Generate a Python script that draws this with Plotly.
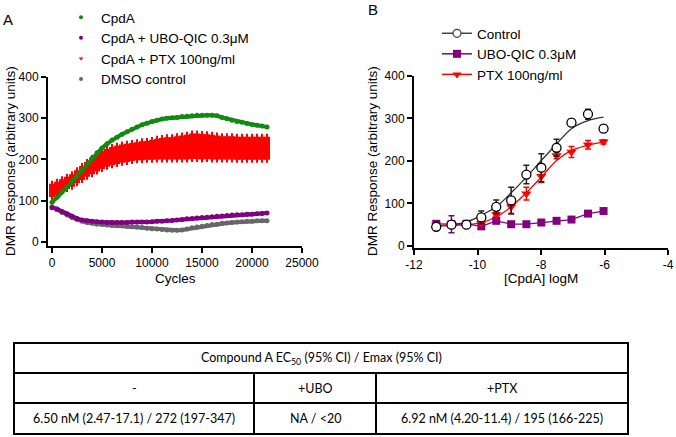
import plotly.graph_objects as go

# ---------------- Panel A data (time course) ----------------
cycles = list(range(0, 22000, 500))
cpda = [96, 108, 121, 133, 145, 160, 174, 189, 203, 216, 228, 238, 247, 254, 261, 267,
        273, 279, 284, 288, 292, 295, 298, 300, 301, 302, 304, 305, 306, 307, 307, 307,
        307, 306, 302, 299, 295, 292, 290, 287, 285, 283, 281, 279]
cpda_ptx = [125, 130, 137, 143, 149, 158, 167, 176, 184, 192, 199, 204, 208, 211, 214, 216,
            218, 220, 221, 222, 223, 225, 226, 227, 227, 228, 229, 230, 232, 232, 231, 231,
            230, 229, 228, 228, 228, 227, 227, 227, 227, 227, 227, 227]
cpda_ptx_err = [16, 16, 15, 15, 15, 16, 17, 18, 20, 21, 22, 22, 22, 22, 22, 22,
                22, 22, 23, 23, 24, 25, 26, 27, 27, 28, 29, 30, 31, 31, 31, 30,
                30, 29, 28, 28, 28, 28, 28, 28, 28, 28, 28, 28]
cpda_ubo = [83, 80, 74, 68, 62, 57, 53, 51, 50, 49, 48, 47, 47, 47, 47, 47,
            48, 48, 48, 48, 49, 50, 50, 51, 52, 53, 54, 56, 57, 58, 59, 60,
            61, 62, 63, 64, 65, 66, 66, 67, 67, 68, 69, 70]
dmso = [85, 78, 71, 65, 59, 54, 50, 47, 45, 43, 42, 41, 40, 39, 39, 38,
        37, 36, 35, 33, 32, 31, 30, 29, 28, 28, 29, 31, 34, 36, 38, 40,
        42, 43, 45, 46, 47, 48, 49, 50, 50, 51, 51, 51]
a_xticks = [0, 5000, 10000, 15000, 20000, 25000]
a_xticklabels = ["0", "5000", "10000", "15000", "20000", "25000"]
y_ticks = [0, 100, 200, 300, 400]

# ---------------- Panel B data (concentration response) ----------------
log_conc = [-11.3, -10.82, -10.35, -9.88, -9.41, -8.94, -8.46, -7.99, -7.51, -7.04, -6.52, -6.03]
ctrl = [45, 50, 50, 67, 92, 107, 168, 184, 231, 290, 310, 276]
ctrl_err = [5, 6, 4, 15, 16, 31, 22, 33, 20, 8, 12, 8]
ptx = [50, 50, 50, 53, 74, 92, 123, 164, 213, 221, 238, 245]
ptx_err = [4, 4, 4, 4, 5, 17, 15, 15, 8, 13, 10, 5]
ubo = [52, 51, 52, 46, 59, 51, 51, 55, 59, 62, 76, 82]
ubo_err = [5, 20, 4, 4, 4, 3, 3, 4, 4, 3, 4, 3]
ctrl_fit = [47, 50, 56, 72, 92, 125, 162, 201, 240, 276, 295, 303]
ptx_fit = [47, 48, 50, 55, 68, 92, 125, 162, 201, 225, 237, 245]
b_xticks = [-12, -10, -8, -6, -4]
b_xticklabels = ["-12", "-10", "-8", "-6", "-4"]

# ---------------- Table ----------------
table_title = "Compound A EC<sub>50</sub> (95% CI) / Emax (95% CI)"
table_cols = ["-", "+UBO", "+PTX"]
table_vals = ["6.50 nM (2.47-17.1) / 272 (197-347)", "NA / <20", "6.92 nM (4.20-11.4) / 195 (166-225)"]

W, H = 676, 437
def fx(p):
    return p / W
def fy(p):
    return 1 - p / H

GREEN = "#108a10"
PURPLE = "#800080"
RED = "#ff0000"
GRAY = "#676767"
FONT = "Liberation Sans, Arial, sans-serif"

fig = go.Figure()

def series(y, color, symbol="circle", err=None):
    kw = {}
    if err is not None:
        kw["error_y"] = dict(type="data", array=err, visible=True, color=color,
                             thickness=6, width=1)
    return go.Scatter(x=cycles, y=y, mode="lines+markers",
                      line=dict(color=color, width=4),
                      marker=dict(color=color, size=5, symbol=symbol),
                      showlegend=False, xaxis="x", yaxis="y", **kw)

fig.add_trace(series(dmso, GRAY))
fig.add_trace(series(cpda_ubo, PURPLE))
fig.add_trace(series(cpda_ptx, RED, "triangle-down", cpda_ptx_err))
fig.add_trace(series(cpda, GREEN))

for name, color, sym in [("CpdA", GREEN, "circle"),
                         ("CpdA + UBO-QIC 0.3μM", PURPLE, "circle"),
                         ("CpdA + PTX 100ng/ml", RED, "triangle-down"),
                         ("DMSO control", GRAY, "circle")]:
    fig.add_trace(go.Scatter(x=[None], y=[None], mode="markers", name=name,
                             marker=dict(color=color, size=4, symbol=sym),
                             xaxis="x", yaxis="y", legend="legend"))

# Panel B traces
fig.add_trace(go.Scatter(x=log_conc, y=ctrl_fit, mode="lines", line=dict(color="#333333", width=1.3, shape="spline"),
                         showlegend=False, xaxis="x2", yaxis="y2"))
fig.add_trace(go.Scatter(x=log_conc, y=ptx_fit, mode="lines", line=dict(color=RED, width=1.3, shape="spline"),
                         showlegend=False, xaxis="x2", yaxis="y2"))
fig.add_trace(go.Scatter(x=log_conc, y=ubo, mode="lines+markers", line=dict(color=PURPLE, width=1.3),
                         marker=dict(color=PURPLE, size=8, symbol="square"),
                         error_y=dict(type="data", array=ubo_err, color=PURPLE, thickness=1.5, width=3),
                         showlegend=False, xaxis="x2", yaxis="y2"))
fig.add_trace(go.Scatter(x=log_conc, y=ptx, mode="markers",
                         marker=dict(color=RED, size=9, symbol="triangle-down"),
                         error_y=dict(type="data", array=ptx_err, color=RED, thickness=1.5, width=3),
                         showlegend=False, xaxis="x2", yaxis="y2"))
fig.add_trace(go.Scatter(x=log_conc, y=ctrl, mode="markers",
                         marker=dict(color="white", size=9, symbol="circle", line=dict(color="black", width=1.3)),
                         error_y=dict(type="data", array=ctrl_err, color="#222222", thickness=1.5, width=3),
                         showlegend=False, xaxis="x2", yaxis="y2"))

for name, lcol, mk in [("Control", "#444444", dict(color="white", size=8, symbol="circle", line=dict(color="#444444", width=1.2))),
                       ("UBO-QIC 0.3μM", PURPLE, dict(color=PURPLE, size=8, symbol="square")),
                       ("PTX 100ng/ml", RED, dict(color=RED, size=8, symbol="triangle-down"))]:
    fig.add_trace(go.Scatter(x=[None], y=[None], mode="lines+markers", name=name,
                             line=dict(color=lcol, width=1.5), marker=mk,
                             xaxis="x2", yaxis="y2", legend="legend2"))

axis_common = dict(showline=True, linecolor="black", linewidth=2, ticks="outside", ticklen=5,
                   tickwidth=2, tickcolor="black", showgrid=False, zeroline=False, automargin=False,
                   tickfont=dict(family=FONT, size=12, color="black"))

fig.update_layout(
    width=W, height=H, margin=dict(l=0, r=0, t=0, b=0, autoexpand=False),
    paper_bgcolor="white", plot_bgcolor="white",
    font=dict(family=FONT, color="black"),
    xaxis=dict(domain=[fx(48), fx(302)], range=[-400, 25000], tickvals=a_xticks, ticktext=a_xticklabels,
               anchor="y", **axis_common),
    yaxis=dict(domain=[fy(246), fy(77)], range=[-10, 400], tickvals=y_ticks,
               anchor="x", **axis_common),
    xaxis2=dict(domain=[fx(414), fx(668)], range=[-12, -4], tickvals=b_xticks, ticktext=b_xticklabels,
                anchor="y2", **axis_common),
    yaxis2=dict(domain=[fy(248), fy(76)], range=[-5, 400], tickvals=y_ticks,
                anchor="x2", **axis_common),
    legend=dict(x=fx(61), y=fy(2), xanchor="left", yanchor="top", bgcolor="rgba(0,0,0,0)",
                font=dict(family=FONT, size=13.5, color="black"), itemwidth=30, tracegroupgap=0),
    legend2=dict(x=fx(437), y=fy(18), xanchor="left", yanchor="top", bgcolor="rgba(0,0,0,0)",
                 font=dict(family=FONT, size=13.5, color="black"), itemwidth=30, tracegroupgap=0),
)

def label(text, x, y, size=13.5, family=FONT, angle=0):
    return dict(text=text, x=fx(x), y=fy(y), xref="paper", yref="paper", showarrow=False,
                xanchor="center", yanchor="middle", textangle=angle,
                font=dict(family=family, size=size, color="black"))

ann = [
    label("A", 8, 20, 15),
    label("B", 373, 9, 15),
    label("DMR Response (arbitrary units)", 10, 161, angle=-90),
    label("DMR Response (arbitrary units)", 372, 161, angle=-90),
    label("Cycles", 175, 278),
    label("[CpdA] logM", 541, 278),
]

# table
TL, TR, TT, TB = 14, 628, 343, 434
r1, r2 = 373, 403
c1, c2 = 254, 376
TFAM = "Lato, Open Sans, sans-serif"
line_kw = dict(xref="paper", yref="paper", line=dict(color="black", width=2))
shapes = [
    dict(type="rect", x0=fx(TL), x1=fx(TR), y0=fy(TT), y1=fy(TB), **line_kw),
    dict(type="line", x0=fx(TL), x1=fx(TR), y0=fy(r1), y1=fy(r1), **line_kw),
    dict(type="line", x0=fx(TL), x1=fx(TR), y0=fy(r2), y1=fy(r2), **line_kw),
    dict(type="line", x0=fx(c1), x1=fx(c1), y0=fy(r1), y1=fy(TB), **line_kw),
    dict(type="line", x0=fx(c2), x1=fx(c2), y0=fy(r1), y1=fy(TB), **line_kw),
]
ann.append(label(table_title, (TL + TR) / 2, (TT + r1) / 2, 12.5, TFAM))
centers = [(TL + c1) / 2, (c1 + c2) / 2, (c2 + TR) / 2]
for cx, lab, val in zip(centers, table_cols, table_vals):
    ann.append(label(lab, cx, (r1 + r2) / 2, 12.5, TFAM))
    ann.append(label(val, cx, (r2 + TB) / 2, 12.5, TFAM))

fig.update_layout(annotations=ann, shapes=shapes)
fig.write_html("out.html", config={"displayModeBar": False},
               post_script="document.body.style.margin='0px';document.body.style.overflow='hidden';")
